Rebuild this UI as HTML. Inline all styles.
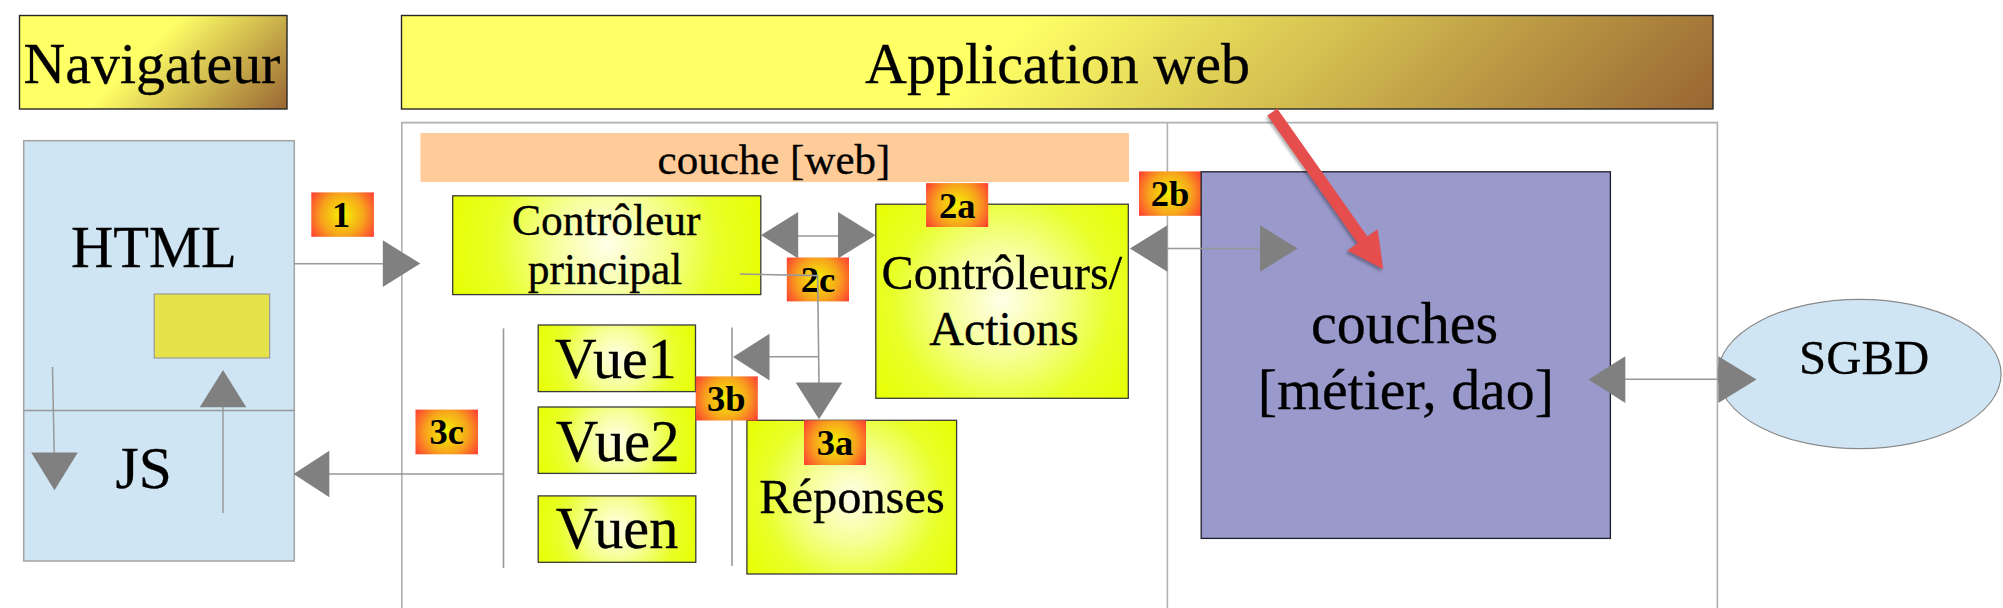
<!DOCTYPE html>
<html><head><meta charset="utf-8">
<style>
html,body{margin:0;padding:0;background:#fff;}
body{width:2003px;height:608px;overflow:hidden;}
svg{display:block;}
.t{font-family:"Liberation Serif",serif;fill:#000;stroke:#000;stroke-width:0.3px;text-anchor:middle;}
.b{font-family:"Liberation Serif",serif;font-weight:bold;font-size:36.5px;fill:#000;text-anchor:middle;}
</style></head><body>
<svg width="2003" height="608" viewBox="0 0 2003 608">
<defs>
<linearGradient id="gNav" gradientUnits="userSpaceOnUse" x1="62.5" y1="-28.5" x2="243.5" y2="152.5">
<stop offset="0" stop-color="#ffff66"/><stop offset="0.45" stop-color="#ffff66"/><stop offset="1" stop-color="#996633"/></linearGradient>
<linearGradient id="gApp" gradientUnits="userSpaceOnUse" x1="706" y1="-289" x2="1408" y2="413">
<stop offset="0" stop-color="#ffff66"/><stop offset="0.45" stop-color="#ffff66"/><stop offset="1" stop-color="#996633"/></linearGradient>
<filter id="blur" x="-20%" y="-20%" width="140%" height="140%"><feGaussianBlur stdDeviation="1.5"/></filter>
</defs>
<rect x="19.5" y="15.5" width="267.5" height="93.5" fill="url(#gNav)" stroke="#262626" stroke-width="1.4"/>
<text x="152" y="83" class="t" style="font-size:57.8px">Navigateur</text>
<rect x="401.5" y="15.5" width="1311.5" height="93.5" fill="url(#gApp)" stroke="#262626" stroke-width="1.4"/>
<text x="1057.5" y="82.9" class="t" style="font-size:58px">Application web</text>
<path d="M401.8 700 V122.6 H1717.4 V700 M1167.4 122.6 V700" fill="none" stroke="#b0b0b0" stroke-width="1.6"/>
<rect x="420.5" y="133" width="708.5" height="49" fill="#ffcc99"/>
<text x="774" y="173.6" class="t" style="font-size:43px">couche [web]</text>
<rect x="23.7" y="140.7" width="270.6" height="420.3" fill="#cfe5f3" stroke="#a3a3a3" stroke-width="1.5"/>
<line x1="23.7" y1="410.4" x2="294.3" y2="410.4" stroke="#999" stroke-width="1.5"/>
<rect x="154.2" y="294" width="115.4" height="64" fill="#e6e24a" stroke="#999" stroke-width="1.2"/>
<text x="153.8" y="266.7" class="t" style="font-size:58.5px">HTML</text>
<text x="143.7" y="488" class="t" style="font-size:59.5px">JS</text>
<line x1="52.5" y1="367" x2="54.2" y2="453" stroke="#999" stroke-width="1.5"/>
<polygon points="54.5,490.2 31.2,452.5 77.8,452.5" fill="#808080"/>
<line x1="223" y1="406" x2="223" y2="513" stroke="#999" stroke-width="1.5"/>
<polygon points="223,370 199.7,407.3 246.3,407.3" fill="#808080"/>
<line x1="294.3" y1="263.8" x2="384" y2="263.8" stroke="#999" stroke-width="1.6"/>
<polygon points="420.3,263.6 382.8,240.3 382.8,286.90000000000003" fill="#808080"/>
<radialGradient id="gb1" gradientUnits="userSpaceOnUse" cx="342.6" cy="214.6" r="38.4"><stop offset="0" stop-color="#f4f400"/><stop offset="0.55" stop-color="#f7a41c"/><stop offset="1" stop-color="#ff3a33"/></radialGradient><rect x="311.3" y="192.4" width="62.6" height="44.4" fill="url(#gb1)"/><text x="341.0" y="227.0" class="b">1</text>
<radialGradient id="gg1" gradientUnits="userSpaceOnUse" cx="606.8" cy="245.2" r="161.8"><stop offset="0" stop-color="#ffffe8"/><stop offset="0.35" stop-color="#f5ff95"/><stop offset="0.68" stop-color="#e9ff2a"/><stop offset="1" stop-color="#e6ff00"/></radialGradient><rect x="452.7" y="195.8" width="308.1" height="98.8" fill="url(#gg1)" stroke="#3a3a3a" stroke-width="1.3"/>
<text x="606.3" y="235.2" class="t" style="font-size:43.5px">Contrôleur</text>
<text x="605.1" y="284.4" class="t" style="font-size:43.5px">principal</text>
<line x1="798" y1="236" x2="839" y2="236" stroke="#999" stroke-width="1.6"/>
<polygon points="761,235.2 798.2,211.89999999999998 798.2,258.5" fill="#808080"/>
<polygon points="875.6,235.2 838,211.89999999999998 838,258.5" fill="#808080"/>
<radialGradient id="gg2" gradientUnits="userSpaceOnUse" cx="1002.0" cy="301.2" r="159.2"><stop offset="0" stop-color="#ffffe8"/><stop offset="0.35" stop-color="#f5ff95"/><stop offset="0.68" stop-color="#e9ff2a"/><stop offset="1" stop-color="#e6ff00"/></radialGradient><rect x="875.8" y="204.2" width="252.5" height="194.1" fill="url(#gg2)" stroke="#3a3a3a" stroke-width="1.3"/>
<text x="1001.8" y="288.5" class="t" style="font-size:48.1px">Contrôleurs/</text>
<text x="1003.9" y="345" class="t" style="font-size:48px">Actions</text>
<radialGradient id="gb2a" gradientUnits="userSpaceOnUse" cx="957.2" cy="205.1" r="38.0"><stop offset="0" stop-color="#f4f400"/><stop offset="0.55" stop-color="#f7a41c"/><stop offset="1" stop-color="#ff3a33"/></radialGradient><rect x="926.1" y="183.1" width="62.1" height="43.9" fill="url(#gb2a)"/><text x="957.2" y="217.5" class="b">2a</text>
<radialGradient id="gb2c" gradientUnits="userSpaceOnUse" cx="817.9" cy="279.4" r="38.1"><stop offset="0" stop-color="#f4f400"/><stop offset="0.55" stop-color="#f7a41c"/><stop offset="1" stop-color="#ff3a33"/></radialGradient><rect x="786.8" y="257.5" width="62.2" height="43.9" fill="url(#gb2c)"/><text x="817.9" y="291.8" class="b">2c</text>
<polyline points="740,274 817.6,275.6 819,383" fill="none" stroke="#999" stroke-width="1.6"/>
<polygon points="819,419.3 795.7,382.4 842.3,382.4" fill="#808080"/>
<line x1="818.5" y1="356.8" x2="769" y2="356.8" stroke="#999" stroke-width="1.6"/>
<polygon points="733,357.1 769.5,333.8 769.5,380.40000000000003" fill="#808080"/>
<line x1="503.5" y1="328.4" x2="503.5" y2="568" stroke="#999" stroke-width="1.6"/>
<line x1="732" y1="327.4" x2="732" y2="566" stroke="#999" stroke-width="1.6"/>
<line x1="503.5" y1="474" x2="329" y2="474" stroke="#999" stroke-width="1.6"/>
<polygon points="293.6,474 329.3,450.7 329.3,497.3" fill="#808080"/>
<radialGradient id="gb3c" gradientUnits="userSpaceOnUse" cx="446.8" cy="432.0" r="38.4"><stop offset="0" stop-color="#f4f400"/><stop offset="0.55" stop-color="#f7a41c"/><stop offset="1" stop-color="#ff3a33"/></radialGradient><rect x="415.5" y="409.6" width="62.5" height="44.7" fill="url(#gb3c)"/><text x="446.8" y="444.4" class="b">3c</text>
<radialGradient id="gg3" gradientUnits="userSpaceOnUse" cx="616.9" cy="358.3" r="85.4"><stop offset="0" stop-color="#ffffe8"/><stop offset="0.35" stop-color="#f5ff95"/><stop offset="0.68" stop-color="#e9ff2a"/><stop offset="1" stop-color="#e6ff00"/></radialGradient><rect x="538.2" y="325.0" width="157.3" height="66.6" fill="url(#gg3)" stroke="#3a3a3a" stroke-width="1.3"/>
<radialGradient id="gg4" gradientUnits="userSpaceOnUse" cx="617.0" cy="440.2" r="85.5"><stop offset="0" stop-color="#ffffe8"/><stop offset="0.35" stop-color="#f5ff95"/><stop offset="0.68" stop-color="#e9ff2a"/><stop offset="1" stop-color="#e6ff00"/></radialGradient><rect x="538.2" y="407.0" width="157.6" height="66.4" fill="url(#gg4)" stroke="#3a3a3a" stroke-width="1.3"/>
<radialGradient id="gg5" gradientUnits="userSpaceOnUse" cx="617.0" cy="529.1" r="85.5"><stop offset="0" stop-color="#ffffe8"/><stop offset="0.35" stop-color="#f5ff95"/><stop offset="0.68" stop-color="#e9ff2a"/><stop offset="1" stop-color="#e6ff00"/></radialGradient><rect x="538.2" y="495.9" width="157.6" height="66.4" fill="url(#gg5)" stroke="#3a3a3a" stroke-width="1.3"/>
<text x="615.8" y="378" class="t" style="font-size:58px">Vue1</text>
<text x="617.7" y="460.7" class="t" style="font-size:58.8px">Vue2</text>
<text x="617" y="548.2" class="t" style="font-size:58.2px">Vuen</text>
<radialGradient id="gg6" gradientUnits="userSpaceOnUse" cx="851.8" cy="497.1" r="130.0"><stop offset="0" stop-color="#ffffe8"/><stop offset="0.35" stop-color="#f5ff95"/><stop offset="0.68" stop-color="#e9ff2a"/><stop offset="1" stop-color="#e6ff00"/></radialGradient><rect x="746.9" y="420.3" width="209.7" height="153.7" fill="url(#gg6)" stroke="#3a3a3a" stroke-width="1.3"/>
<text x="852" y="513" class="t" style="font-size:48.4px">Réponses</text>
<radialGradient id="gb3b" gradientUnits="userSpaceOnUse" cx="726.8" cy="398.4" r="38.1"><stop offset="0" stop-color="#f4f400"/><stop offset="0.55" stop-color="#f7a41c"/><stop offset="1" stop-color="#ff3a33"/></radialGradient><rect x="695.7" y="376.4" width="62.1" height="44.1" fill="url(#gb3b)"/><text x="726.4" y="410.8" class="b">3b</text>
<radialGradient id="gb3a" gradientUnits="userSpaceOnUse" cx="835.0" cy="442.6" r="38.2"><stop offset="0" stop-color="#f4f400"/><stop offset="0.55" stop-color="#f7a41c"/><stop offset="1" stop-color="#ff3a33"/></radialGradient><rect x="804.0" y="420.3" width="62.0" height="44.7" fill="url(#gb3a)"/><text x="835.0" y="455.0" class="b">3a</text>
<radialGradient id="gb2b" gradientUnits="userSpaceOnUse" cx="1170.0" cy="193.6" r="38.1"><stop offset="0" stop-color="#f4f400"/><stop offset="0.55" stop-color="#f7a41c"/><stop offset="1" stop-color="#ff3a33"/></radialGradient><rect x="1139.0" y="171.4" width="62.0" height="44.4" fill="url(#gb2b)"/><text x="1170.0" y="206.0" class="b">2b</text>
<rect x="1201.2" y="171.8" width="409.2" height="366.6" fill="#9999cc" stroke="#1e1e2a" stroke-width="1.3"/>
<text x="1404.6" y="342.5" class="t" style="font-size:58.1px">couches</text>
<text x="1405.85" y="408.6" class="t" style="font-size:57.8px">[métier, dao]</text>
<line x1="1167" y1="248.5" x2="1261" y2="248.5" stroke="#999" stroke-width="1.6"/>
<polygon points="1129.9,248.5 1167.4,225.2 1167.4,271.8" fill="#808080"/>
<polygon points="1297.6,248.5 1260,225.2 1260,271.8" fill="#808080"/>
<ellipse cx="1859.6" cy="374" rx="141.5" ry="74.7" fill="#cfe5f3" stroke="#8a8a8a" stroke-width="1.2"/>
<text x="1864.1" y="373.75" class="t" style="font-size:48.75px">SGBD</text>
<line x1="1625" y1="379.2" x2="1718" y2="379.2" stroke="#999" stroke-width="1.6"/>
<polygon points="1588.4,379.6 1625.3,356.3 1625.3,402.90000000000003" fill="#808080"/>
<polygon points="1756.5,379.6 1718.3,356.3 1718.3,402.90000000000003" fill="#808080"/>
<polygon points="1267.4,115.5 1357.6,243.3 1347.3,250.5 1383.2,269.3 1377.6,229.2 1367.4,236.4 1277.2,108.5" fill="#000" opacity="0.3" transform="translate(-1.5,2.5)" filter="url(#blur)"/>
<polygon points="1267.4,115.5 1357.6,243.3 1347.3,250.5 1383.2,269.3 1377.6,229.2 1367.4,236.4 1277.2,108.5" fill="#e64d4d"/>
</svg>
</body></html>
